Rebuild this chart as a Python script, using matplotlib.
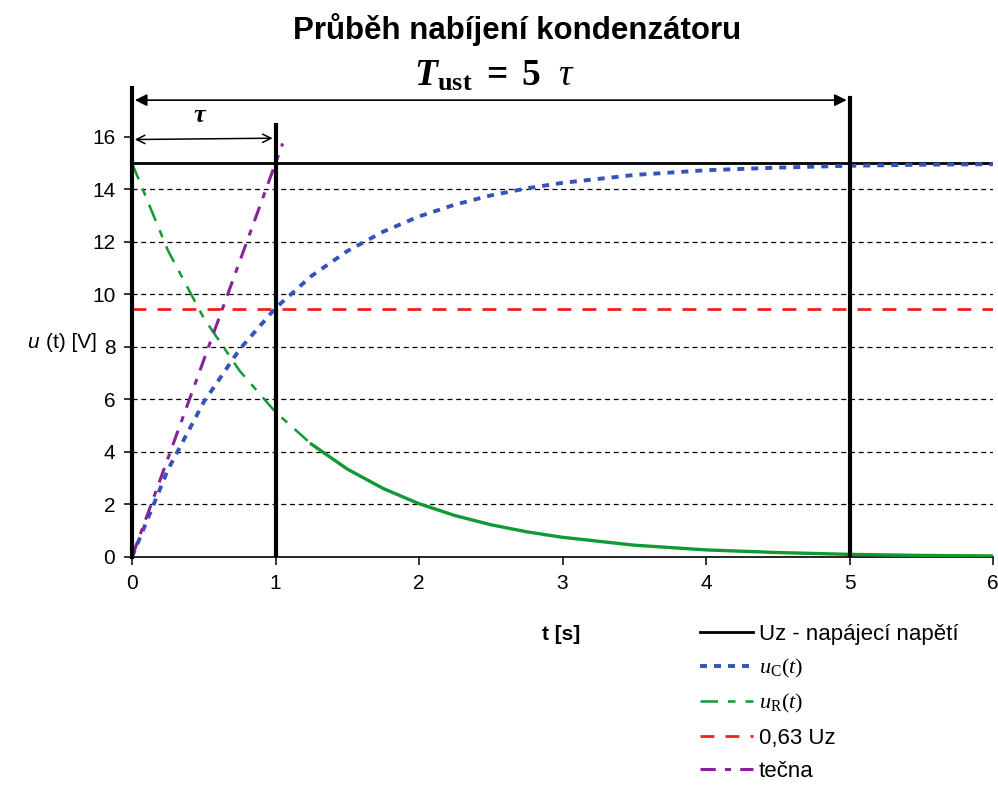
import matplotlib.pyplot as plt

# values
t = [0, 0.25, 0.5, 0.75, 1, 1.25, 1.5, 1.75, 2, 2.25, 2.5, 2.75, 3,
     3.5, 4, 4.5, 5, 5.5, 6]
u_c = [0, 3.32, 5.90, 7.91, 9.48, 10.70, 11.65, 12.39, 12.97, 13.42, 13.77,
       14.04, 14.25, 14.55, 14.73, 14.83, 14.90, 14.94, 14.96]
u_r = [15, 11.68, 9.10, 7.09, 5.52, 4.30, 3.35, 2.61, 2.03, 1.58, 1.23,
       0.96, 0.75, 0.45, 0.27, 0.17, 0.10, 0.06, 0.04]
tecna_t = [0, 1.05]
tecna_u = [0, 15.75]
uz = 15
uz_063 = 9.45
grid_levels = [2, 4, 6, 8, 10, 12, 14]
x_ticks = [0, 1, 2, 3, 4, 5, 6]
y_ticks = [0, 2, 4, 6, 8, 10, 12, 14, 16]

plt.rcParams['font.family'] = ['Liberation Sans', 'DejaVu Sans']
plt.rcParams['mathtext.fontset'] = 'custom'
plt.rcParams['mathtext.rm'] = 'Liberation Serif'
plt.rcParams['mathtext.it'] = 'Liberation Serif:italic'
plt.rcParams['mathtext.bf'] = 'Liberation Serif:bold'
plt.rcParams['mathtext.bfit'] = 'Liberation Serif:italic:bold'

fig = plt.figure(figsize=(9.98, 7.85), dpi=100)
ax = fig.add_axes([132 / 998, 1 - 557 / 785, 861 / 998, 470 / 785])
ax.set_xlim(0, 6)
ax.set_ylim(0, 17.9)

for lvl in grid_levels:
    ax.axhline(lvl, color='black', lw=0.9, ls=(0, (4, 3)), zorder=1)

ax.plot([0, 6], [uz, uz], color='black', lw=2, label='Uz - napájecí napětí', zorder=3)
ax.plot(t, u_c, color='#3355bb', lw=2.8, ls=(0, (1.8, 1.8)),
        label=r'$u_{\mathrm{C}}(t)$', zorder=4)
# green is dashed near the start, solid afterwards
ax.plot(t[:6], u_r[:6], color='#119933', lw=1.8, ls=(0, (7, 4, 3, 4)),
        label=r'$u_{\mathrm{R}}(t)$', zorder=4)
ax.plot(t[5:], u_r[5:], color='#119933', lw=2.4, zorder=4)
ax.plot([0, 6], [uz_063, uz_063], color='#ee2222', lw=2, ls=(0, (5, 4)),
        label='0,63 Uz', zorder=3)
ax.plot(tecna_t, tecna_u, color='#882299', lw=2.2, ls=(0, (5, 3, 2, 3)),
        label='tečna', zorder=4)

# thick vertical markers at 0, tau and 5 tau
ax.plot([0, 0], [0, 17.87], color='black', lw=3, clip_on=False, zorder=5)
ax.plot([1, 1], [0, 16.46], color='black', lw=3, zorder=5)
ax.plot([5, 5], [0, 17.5], color='black', lw=3, zorder=5)

ax.annotate('', xy=(0.02, 17.4), xytext=(4.98, 17.4),
            arrowprops=dict(arrowstyle='<|-|>', color='black', lw=1.2,
                            mutation_scale=18, shrinkA=0, shrinkB=0))
ax.annotate('', xy=(0.02, 15.9), xytext=(0.98, 15.95),
            arrowprops=dict(arrowstyle='<->', color='black', lw=1.1,
                            mutation_scale=15, shrinkA=0, shrinkB=0))
ax.text(0.47, 16.8, 'τ', fontsize=19, ha='center', va='center',
        fontfamily='Liberation Serif', fontstyle='italic', fontweight='bold')
ax.text(2.53, 18.35, r'$\mathbfit{T}_{\mathbf{ust}}\mathbf{\ =\ 5\ \ }\mathit{\tau}$',
        fontsize=27, ha='center', va='center')

for s in ['top', 'right', 'left']:
    ax.spines[s].set_visible(False)
ax.spines['bottom'].set_linewidth(1.2)
ax.set_xticks(x_ticks)
ax.set_yticks(y_ticks)
ax.tick_params(labelsize=15, length=6, width=1.1, direction='out', pad=6)

ax.text(2.99, -2.97, 't [s]', fontsize=15, fontweight='bold', ha='center', va='center')
fig.text(33 / 998, 1 - 343 / 785, 'u', fontsize=15, fontstyle='italic', ha='center', va='center')
fig.text(71 / 998, 1 - 343 / 785, '(t) [V]', fontsize=15, ha='center', va='center')
fig.text(517 / 998, 1 - 30 / 785, 'Průběh nabíjení kondenzátoru', fontsize=22.5,
         fontweight='bold', ha='center', va='center')

leg = fig.legend(loc='upper left', bbox_to_anchor=(691 / 998, 1 - 615 / 785),
                 frameon=False, fontsize=16, handlelength=2.4, labelspacing=0.55,
                 handletextpad=0.25, borderaxespad=0)

fig.savefig('out.png', dpi=100)
